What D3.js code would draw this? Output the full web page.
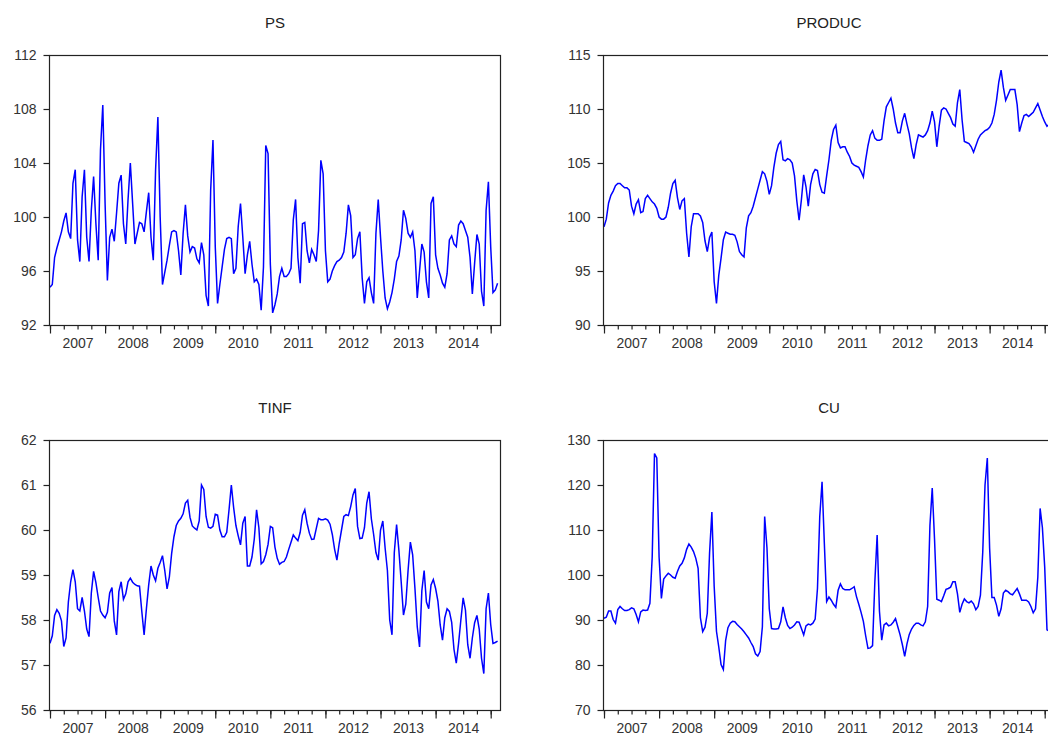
<!DOCTYPE html>
<html>
<head>
<meta charset="utf-8">
<script src="https://cdn.jsdelivr.net/npm/d3@7"></script>
<style>
  body { margin: 0; background: #fff; }
  svg { display: block; }
  text { font-family: "Liberation Sans", Arial, sans-serif; }
</style>
</head>
<body>
<svg id="chart" width="1048" height="736"></svg>
<script>
// Semi-monthly observations, starting January 2007
const startYear = 2007;
const obsPerYear = 24;
const yearLabels = ["2007", "2008", "2009", "2010", "2011", "2012", "2013", "2014"];

const psValues = [
  94.8, 95.0, 97.0, 97.7, 98.3, 98.9, 99.7, 100.3, 98.9, 98.4,
  102.5, 103.5, 98.3, 96.7, 101.5, 103.5, 98.5, 96.7, 100.5, 103.0,
  99.5, 96.8, 105.0, 108.3, 101.0, 95.3, 98.5, 99.1, 98.2, 100.3,
  102.5, 103.1, 99.5, 98.0, 101.3, 104.0, 101.0, 98.0, 98.8, 99.6,
  99.5, 98.9, 100.4, 101.8, 98.5, 96.8, 103.5, 107.4, 100.0, 95.0,
  95.9, 96.8, 97.9, 98.9, 99.0, 98.9, 97.5, 95.7, 98.8, 100.9,
  98.6, 97.4, 97.8, 97.7, 96.9, 96.6, 98.1, 97.2, 94.2, 93.4,
  102.0, 105.7, 97.8, 93.6, 95.0, 96.3, 97.6, 98.4, 98.5, 98.4,
  95.8, 96.2, 99.3, 101.0, 98.5, 95.8, 97.2, 98.2, 96.5, 95.2,
  95.4, 95.0, 93.1, 96.3, 105.3, 104.7, 96.5, 92.9, 93.5, 94.3,
  95.6, 96.2, 95.6, 95.6, 95.8, 96.2, 99.8, 101.3, 97.0, 95.1,
  99.5, 99.6, 97.5, 96.6, 97.6, 97.2, 96.7, 99.0, 104.2, 103.2,
  97.5, 95.2, 95.4, 96.0, 96.4, 96.7, 96.8, 97.0, 97.4, 98.8,
  100.9, 100.1, 97.0, 97.2, 98.4, 98.9, 95.5, 93.6, 95.2, 95.5,
  94.4, 93.6, 98.8, 101.3, 98.5, 96.0, 94.0, 93.2, 93.7, 94.4,
  95.4, 96.7, 97.1, 98.3, 100.5, 99.9, 98.8, 98.5, 98.9, 97.5,
  94.0, 96.0, 98.0, 97.4, 95.2, 94.0, 101.0, 101.5, 97.2, 96.2,
  95.7, 95.1, 94.8, 95.8, 98.3, 98.6, 98.0, 97.8, 99.4, 99.7,
  99.5, 99.0, 98.5, 97.0, 94.3, 96.6, 98.7, 98.0, 94.5, 93.4,
  100.5, 102.6, 97.8, 94.4, 94.6, 95.1
];

const producValues = [
  99.1, 99.8, 101.3, 102.0, 102.4, 102.9, 103.1, 103.1, 102.9, 102.7,
  102.7, 102.5, 101.0, 100.3, 101.2, 101.6, 100.4, 100.5, 101.7, 102.0,
  101.7, 101.4, 101.2, 100.8, 100.0, 99.8, 99.8, 100.0, 100.9, 102.2,
  103.1, 103.4, 101.8, 100.7, 101.5, 101.7, 98.5, 96.3, 99.1, 100.3,
  100.3, 100.3, 100.1, 99.5, 97.8, 96.8, 98.1, 98.6, 94.0, 92.0,
  94.6, 96.2, 97.9, 98.6, 98.5, 98.4, 98.4, 98.3, 97.7, 96.8,
  96.5, 96.3, 99.0, 100.1, 100.4, 101.0, 101.8, 102.6, 103.4, 104.2,
  104.0, 103.3, 102.1, 102.9, 104.6, 105.9, 106.7, 107.0, 105.3, 105.2,
  105.4, 105.3, 105.0, 103.8, 101.5, 99.7, 101.6, 103.9, 102.8, 101.0,
  103.0, 104.0, 104.4, 104.3, 103.0, 102.3, 102.2, 103.8, 105.3, 107.1,
  108.1, 108.5, 106.9, 106.4, 106.5, 106.5, 106.0, 105.6, 105.0, 104.8,
  104.7, 104.6, 104.2, 103.7, 105.3, 106.6, 107.6, 108.0, 107.3, 107.1,
  107.1, 107.2, 108.9, 110.2, 110.6, 111.0, 110.0, 108.7, 107.8, 107.8,
  108.9, 109.6, 108.6, 107.7, 106.4, 105.4, 106.7, 107.6, 107.5, 107.4,
  107.6, 108.0, 108.7, 109.8, 108.8, 106.5, 108.4, 109.9, 110.1, 110.0,
  109.6, 109.2, 108.6, 108.4, 110.6, 111.8, 109.0, 107.0, 106.9, 106.8,
  106.5, 106.0, 106.6, 107.2, 107.6, 107.8, 108.0, 108.1, 108.3, 108.7,
  109.5, 110.8, 112.5, 113.6, 112.0, 110.8, 111.3, 111.8, 111.8, 111.8,
  110.4, 107.9, 108.7, 109.4, 109.5, 109.3, 109.5, 109.7, 110.1, 110.5,
  109.9, 109.3, 108.8, 108.4, 108.6, 108.8
];

const tinfValues = [
  57.48, 57.65, 58.1, 58.23, 58.15, 57.98, 57.41, 57.6, 58.4, 58.85,
  59.12, 58.85, 58.25, 58.2, 58.5, 58.2, 57.8, 57.63, 58.6, 59.08,
  58.83, 58.5, 58.2, 58.11, 58.05, 58.17, 58.6, 58.72, 57.98, 57.67,
  58.63, 58.85, 58.46, 58.58, 58.85, 58.93, 58.84, 58.79, 58.76, 58.75,
  58.19, 57.67, 58.25, 58.78, 59.2, 59.0, 58.87, 59.15, 59.28, 59.43,
  59.1, 58.69, 58.96, 59.48, 59.85, 60.1, 60.2, 60.26, 60.36, 60.6,
  60.66, 60.28, 60.09, 60.04, 60.0, 60.2, 61.0, 60.9, 60.3, 60.06,
  60.04, 60.08, 60.35, 60.33, 60.0, 59.85, 59.85, 59.95, 60.45, 61.0,
  60.5, 60.1, 59.87, 59.67, 60.15, 60.3, 59.2, 59.2, 59.4, 59.8,
  60.45, 60.05, 59.25, 59.3, 59.45, 59.68, 60.08, 60.05, 59.62, 59.37,
  59.24, 59.28, 59.3, 59.4, 59.57, 59.73, 59.89, 59.82, 59.76, 59.95,
  60.33, 60.45, 60.15, 59.93, 59.79, 59.8, 60.03, 60.26, 60.23, 60.23,
  60.25, 60.22, 60.13, 59.9, 59.57, 59.33, 59.7, 60.0, 60.3, 60.34,
  60.32, 60.52, 60.78, 60.92, 60.08, 59.81, 59.82, 60.05, 60.6, 60.85,
  60.25, 59.9, 59.5, 59.33, 60.0, 60.2, 59.6, 59.1, 58.0, 57.67,
  59.5, 60.12, 59.55, 58.85, 58.11, 58.35, 59.1, 59.73, 59.45, 58.7,
  57.85, 57.4, 58.65, 59.1, 58.4, 58.25, 58.78, 58.9, 58.7, 58.42,
  57.89, 57.55, 58.05, 58.25, 58.19, 57.95, 57.35, 57.04, 57.48, 58.0,
  58.49, 58.22, 57.45, 57.15, 57.6, 57.94, 58.1, 57.8, 57.15, 56.81,
  58.25, 58.6, 57.9, 57.48, 57.5, 57.53
];

const cuValues = [
  90.4, 90.6, 92.0, 92.0, 90.1, 89.3, 92.3, 93.0, 92.5, 92.1,
  92.1, 92.3, 92.7, 92.5, 91.2, 89.6, 91.8, 92.2, 92.1, 92.2,
  93.7, 104.0, 127.0, 126.0, 104.0, 94.8, 99.1, 99.8, 100.4, 100.0,
  99.5, 99.3, 100.8, 102.0, 102.6, 103.8, 105.7, 106.9, 106.2, 105.2,
  103.7, 101.5, 90.5, 87.4, 88.4, 91.5, 105.0, 114.0, 97.5, 87.5,
  84.0, 80.1, 79.0, 85.5, 88.3, 89.3, 89.7, 89.6, 89.0, 88.5,
  88.0, 87.4, 86.7, 86.0, 85.0, 84.1, 82.5, 82.0, 83.0, 88.5,
  113.0, 106.0, 92.5, 88.1, 88.0, 88.0, 88.1, 89.6, 92.9, 90.5,
  88.8, 88.1, 88.4, 88.9, 89.6, 89.5, 88.1, 86.7, 88.7, 89.1,
  88.9, 89.3, 90.2, 97.0, 113.0, 120.7, 107.0, 94.1, 95.1, 94.4,
  93.5, 92.8, 96.6, 98.0, 97.0, 96.7, 96.7, 96.7, 97.0, 97.4,
  95.2, 93.5, 91.7, 89.7, 86.5, 83.7, 83.8, 84.3, 98.5, 108.9,
  92.0, 85.5, 88.9, 89.3, 88.7, 88.9, 89.5, 90.3, 88.5, 86.7,
  84.5, 81.9, 84.7, 86.8, 88.0, 88.8, 89.3, 89.3, 88.9, 88.7,
  89.6, 93.0, 111.0, 119.3, 108.0, 94.6, 94.4, 94.1, 95.4, 96.8,
  97.0, 97.3, 98.5, 98.5, 95.8, 91.7, 93.5, 94.7, 94.1, 93.8,
  94.2, 93.6, 92.3, 93.0, 95.5, 105.0, 120.0, 126.0, 106.0, 95.0,
  95.0, 93.3, 90.8, 92.5, 96.0, 96.6, 96.3, 95.8, 95.6, 96.3,
  97.0, 95.8, 94.4, 94.4, 94.4, 94.0, 93.0, 91.6, 92.5, 99.5,
  114.8, 110.5, 101.8, 87.8, 87.5, 88.0
];

const psTicks = [92, 96, 100, 104, 108, 112];
const producTicks = [90, 95, 100, 105, 110, 115];
const tinfTicks = [56, 57, 58, 59, 60, 61, 62];
const cuTicks = [70, 80, 90, 100, 110, 120, 130];

// Panel frames (the right-hand column runs past the page edge)
const frameW = 451, frameH = 270;
const panels = [
  { title: "PS",     values: psValues,     ticks: psTicks,     left: 49,  top: 55 },
  { title: "PRODUC", values: producValues, ticks: producTicks, left: 603, top: 55 },
  { title: "TINF",   values: tinfValues,   ticks: tinfTicks,   left: 49,  top: 440 },
  { title: "CU",     values: cuValues,     ticks: cuTicks,     left: 603, top: 440 }
];

const svg = d3.select("#chart");
const lastYear = startYear + yearLabels.length;

panels.forEach(p => {
  const g = svg.append("g");

  const x = d3.scaleLinear()
    .domain([startYear, lastYear])
    .range([p.left + 1, p.left + 441.7]);
  const y = d3.scaleLinear()
    .domain(d3.extent(p.ticks))
    .range([p.top + frameH, p.top]);

  // series line
  const line = d3.line()
    .x((d, i) => x(startYear + i / obsPerYear))
    .y(d => y(d));
  g.append("path")
    .datum(p.values)
    .attr("fill", "none")
    .attr("stroke", "#0000ff")
    .attr("stroke-width", 1.5)
    .attr("d", line);

  // frame
  g.append("rect")
    .attr("x", p.left + 0.5).attr("y", p.top + 0.5)
    .attr("width", frameW).attr("height", frameH)
    .attr("fill", "none").attr("stroke", "#222").attr("stroke-width", 1.2);

  const bottom = p.top + frameH;

  // quarterly minor ticks
  const quarters = d3.range(0, yearLabels.length * 4 + 1).map(q => startYear + q / 4);
  const minorAxis = d3.axisBottom(x).tickValues(quarters).tickSize(4).tickFormat("");
  g.append("g").attr("transform", `translate(0,${bottom + 0.5})`).call(minorAxis)
    .call(a => a.select(".domain").remove());

  // year boundary ticks
  const years = d3.range(startYear, lastYear + 1);
  const majorAxis = d3.axisBottom(x).tickValues(years).tickSize(8).tickFormat("");
  g.append("g").attr("transform", `translate(0,${bottom + 0.5})`).call(majorAxis)
    .call(a => a.select(".domain").remove());

  // year labels centred in each year
  const labelAxis = d3.axisBottom(x)
    .tickValues(yearLabels.map(s => +s + 0.5))
    .tickSize(0).tickPadding(13.5)
    .tickFormat(v => yearLabels[Math.floor(v) - startYear]);
  g.append("g").attr("transform", `translate(0,${bottom})`).call(labelAxis)
    .call(a => a.select(".domain").remove());

  // value axis
  const yAxis = d3.axisLeft(y).tickValues(p.ticks).tickSize(6).tickPadding(7).tickFormat(d3.format("d"));
  g.append("g").attr("transform", `translate(${p.left + 0.5},0)`).call(yAxis)
    .call(a => a.select(".domain").remove());

  g.selectAll(".tick line").attr("stroke", "#222").attr("stroke-width", 1.2);
  g.selectAll(".tick text")
    .attr("font-family", "'Liberation Sans', Arial, sans-serif")
    .attr("font-size", 14).attr("fill", "#333");

  // title
  g.append("text")
    .attr("x", p.left + frameW / 2 + 0.5)
    .attr("y", p.top - 27.5)
    .attr("text-anchor", "middle")
    .attr("font-size", 15)
    .attr("fill", "#222")
    .text(p.title);
});
</script>
</body>
</html>
